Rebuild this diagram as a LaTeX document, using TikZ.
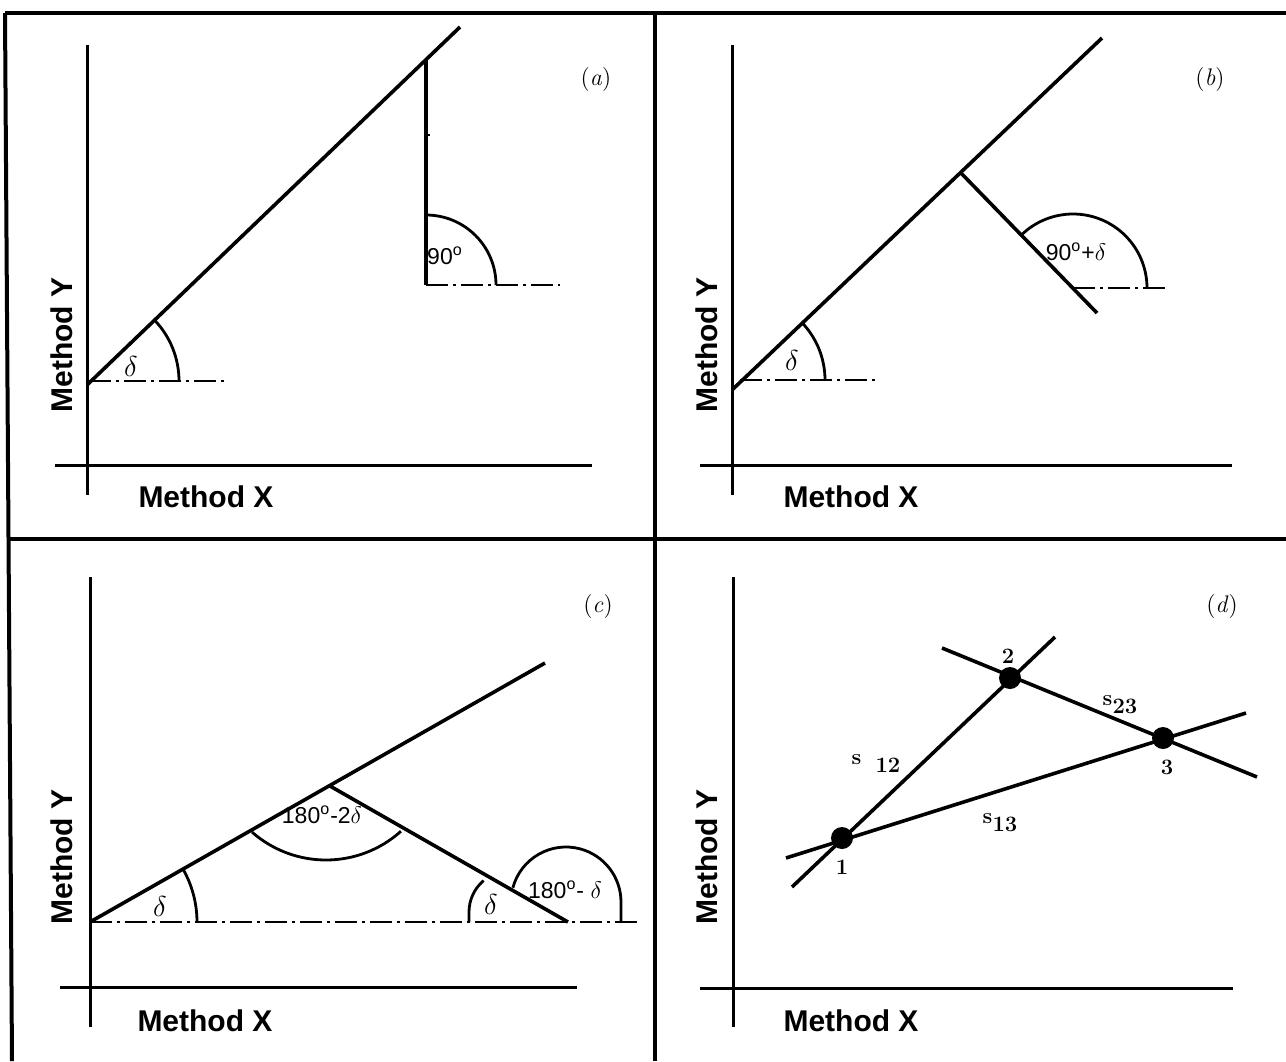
\documentclass[tikz,border=0pt]{standalone}
\usepackage{fontspec}
\newfontfamily\hel{Liberation Sans}
\begin{document}
\begin{tikzpicture}[x=0.5pt,y=-0.5pt,
  frame/.style={line width=2pt},
  axis/.style={line width=1.5pt},
  ln/.style={line width=1.8pt},
  arcl/.style={line width=1.4pt},
  dd/.style={line width=1.4pt, dash pattern=on 11pt off 2.5pt on 1.5pt off 2.5pt},
  axlab/.style={font=\hel\bfseries\fontsize{15}{15}\selectfont, inner sep=0pt},
  panel/.style={font=\fontsize{12}{12}\selectfont, inner sep=0pt},
  ang/.style={font=\hel\fontsize{11.5}{11.5}\selectfont, inner sep=0pt},
  angd/.style={font=\fontsize{14}{14}\selectfont, inner sep=0pt},
  dlab/.style={font=\bfseries\fontsize{11}{11}\selectfont, inner sep=0pt},
  dot/.style={circle, fill=black, minimum size=11pt, inner sep=0pt},
]
\useasboundingbox (0,0) rectangle (1286,1061);
% frame
\draw[frame] (5,13) -- (1286,13);
\draw[frame] (5,13) -- (12,1061);
\draw[frame] (8,539) -- (1286,539);
\draw[frame] (655,13) -- (655,1061);

% ---------------- panel (a)
\draw[axis] (87,45) -- (87,495);
\draw[axis] (55,465) -- (592,465);
\coordinate (aO) at (87,385);
\coordinate (aT) at (460,27);
\draw[ln] (aO) -- (aT);
\draw[dd] (89,381) -- (228,381);
\draw[arcl] (91,381) ++(0:88) arc (0:-43.8:88);
\node[angd] (ad) at (131,366) {$\delta$};
\coordinate (aP) at (426,60);
\coordinate (aQ) at (426,285);
\draw[ln] (aP) -- (aQ);
\draw[line width=1pt] (426,135) -- (430,135);
\draw[dd] (aQ) -- (560,285);
\draw[arcl] (aQ) ++(0:70) arc (0:-90:70);
\node[ang] (a90) at (445,256) {90\textsuperscript{o}};
\node[panel] (la) at (596,80) {(\textit{a})};
\node[axlab, rotate=90] (ay) at (62,345) {Method Y};
\node[axlab] (ax) at (206,497) {Method X};

% ---------------- panel (b)
\draw[axis] (732,45) -- (732,495);
\draw[axis] (700,465) -- (1232,465);
\coordinate (bO) at (732,390);
\coordinate (bT) at (1102,38);
\draw[ln] (bO) -- (bT);
\draw[dd] (740,380) -- (875,380);
\draw[arcl] (742,380) ++(0:83) arc (0:-43.6:83);
\node[angd] (bd) at (792,360) {$\delta$};
\coordinate (bP) at (960,172);
\coordinate (bQ) at (1097,313);
\coordinate (bV) at (1073,288);
\draw[ln] (bP) -- (bQ);
\draw[dd] (bV) -- (1170,288);
\draw[arcl] (bV) ++(0:74) arc (0:-134.2:74);
\node[ang] (b90) at (1076,252) {90\textsuperscript{o}+$\delta$};
\node[panel] (lb) at (1210,80) {(\textit{b})};
\node[axlab, rotate=90] (by) at (707,345) {Method Y};
\node[axlab] (bx) at (851,497) {Method X};

% ---------------- panel (c)
\draw[axis] (90,577) -- (90,1027);
\draw[axis] (60,987) -- (577,987);
\coordinate (cO) at (90,922);
\coordinate (cT) at (545,663);
\coordinate (cV) at (330,786);
\coordinate (cE) at (568,922);
\draw[ln] (cO) -- (cT);
\draw[dd] (cO) -- (640,922);
\draw[ln] (cV) -- (cE);
\draw[arcl] (cO) ++(0:107) arc (0:-29.65:107);
\node[angd] (cd1) at (160,906) {$\delta$};
\draw[arcl] (326,748) ++(48:112) arc (48:131.4:112);
\node[ang] (c180a) at (322,815) {180\textsuperscript{o}-2$\delta$};
\draw[arcl] (469,922) -- (469,912) arc (180:230:41);
\node[angd] (cd2) at (491,904) {$\delta$};
\draw[arcl] (566,902) ++(195:55) arc (195:360:55) -- (621,922);
\node[ang] (c180b) at (565,890) {180\textsuperscript{o}- $\delta$};
\node[panel] (lc) at (598,607) {(\textit{c})};
\node[axlab, rotate=90] (cy) at (62,857) {Method Y};
\node[axlab] (cx) at (205,1021) {Method X};

% ---------------- panel (d)
\draw[axis] (733,577) -- (733,1027);
\draw[axis] (700,988) -- (1233,988);
\coordinate (l12a) at (792,887);
\coordinate (l12b) at (1055,637);
\coordinate (l23a) at (942,648);
\coordinate (l23b) at (1257,777);
\coordinate (l13a) at (786,858);
\coordinate (l13b) at (1246,713);
\draw[ln] (l12a) -- (l12b);
\draw[ln] (l23a) -- (l23b);
\draw[ln] (l13a) -- (l13b);
\node[dot] (p1) at (842,838) {};
\node[dot] (p2) at (1010,678) {};
\node[dot] (p3) at (1163,738) {};
\node[dlab] (n1) at (842,867) {1};
\node[dlab] (n2) at (1008,656) {2};
\node[dlab] (n3) at (1167,767) {3};
\node[dlab] (s12) at (876,764) {s\hspace{7pt}\raisebox{-4pt}{12}};
\node[dlab] (s23) at (1120,705) {s\raisebox{-4pt}{23}};
\node[dlab] (s13) at (1000,823) {s\raisebox{-4pt}{13}};
\node[panel] (ld) at (1222,607) {(\textit{d})};
\node[axlab, rotate=90] (dy) at (707,857) {Method Y};
\node[axlab] (dx) at (851,1021) {Method X};
\end{tikzpicture}
\end{document}
